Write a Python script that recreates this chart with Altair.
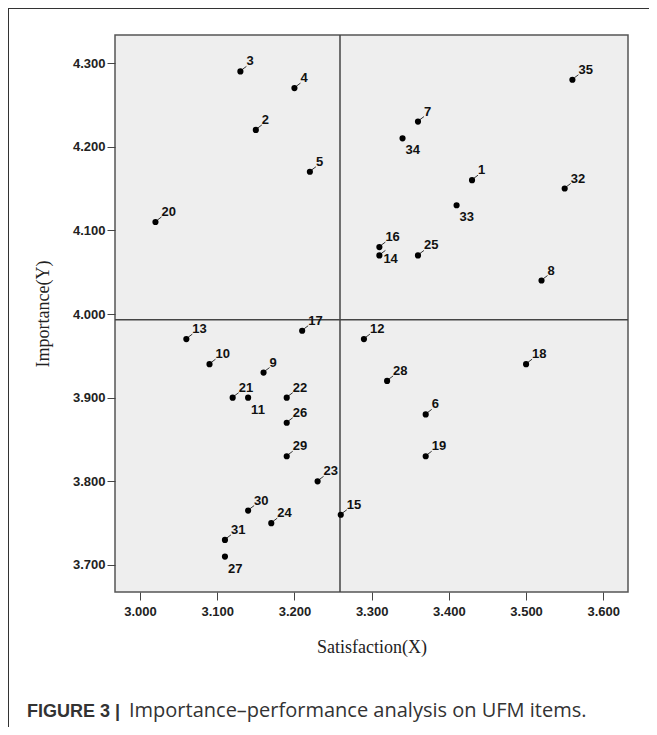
import altair as alt
import pandas as pd

ids = list(range(1, 36))
satisfaction = [3.43, 3.15, 3.13, 3.20, 3.22, 3.37, 3.36, 3.52, 3.16, 3.09,
                3.14, 3.29, 3.06, 3.31, 3.26, 3.31, 3.21, 3.50, 3.37, 3.02,
                3.12, 3.19, 3.23, 3.17, 3.36, 3.19, 3.11, 3.32, 3.19, 3.14,
                3.11, 3.55, 3.41, 3.34, 3.56]
importance = [4.16, 4.22, 4.29, 4.27, 4.17, 3.88, 4.23, 4.04, 3.93, 3.94,
              3.90, 3.97, 3.97, 4.07, 3.76, 4.08, 3.98, 3.94, 3.83, 4.11,
              3.90, 3.90, 3.80, 3.75, 4.07, 3.87, 3.71, 3.92, 3.83, 3.765,
              3.73, 4.15, 4.13, 4.21, 4.28]
below_labels = [34, 33, 11, 27]
right_labels = [14]

mean_x = [3.259]
mean_y = [3.993]

x_ticks = [3.0, 3.1, 3.2, 3.3, 3.4, 3.5, 3.6]
y_ticks = [3.7, 3.8, 3.9, 4.0, 4.1, 4.2, 4.3]

df = pd.DataFrame({"id": ids, "x": satisfaction, "y": importance})
df["lab"] = df["id"].astype(str)
df["pos"] = ["below" if i in below_labels else ("right" if i in right_labels else "above") for i in ids]

W, H = 513, 557
xs = alt.Scale(domain=[2.9676, 3.632], nice=False, zero=False)
ys = alt.Scale(domain=[3.6677, 4.3335], nice=False, zero=False)

tick_font = "Liberation Sans"

base = alt.Chart(df)

xenc = alt.X("x:Q", scale=xs, title="Satisfaction(X)",
             axis=alt.Axis(values=x_ticks, format=".3f", grid=False,
                           labelFont=tick_font, labelFontWeight="bold", labelFontSize=13,
                           labelColor="#222", tickColor="#444", tickSize=8, domain=False,
                           titleFont="Liberation Serif", titleFontSize=18, titleFontWeight="normal",
                           titleColor="#222", titlePadding=20, labelPadding=5))
yenc = alt.Y("y:Q", scale=ys, title="Importance(Y)",
             axis=alt.Axis(values=y_ticks, format=".3f", grid=False,
                           labelFont=tick_font, labelFontWeight="bold", labelFontSize=13,
                           labelColor="#222", tickColor="#444", tickSize=8, domain=False,
                           titleFont="Liberation Serif", titleFontSize=18, titleFontWeight="normal",
                           titleColor="#222", titlePadding=20, labelPadding=2))

points = base.mark_circle(size=38, color="#000", opacity=1).encode(x=xenc, y=yenc)

leaders_up = base.transform_filter(alt.datum.pos != "below").mark_rule(
    color="#333", strokeWidth=1, xOffset=2, yOffset=-2, x2Offset=6, y2Offset=-5
).encode(x=alt.X("x:Q", scale=xs), x2="x:Q", y=alt.Y("y:Q", scale=ys), y2="y:Q")

labels_up = base.transform_filter(alt.datum.pos == "above").mark_text(
    font=tick_font, fontWeight="bold", fontSize=13, color="#111",
    align="left", baseline="alphabetic", dx=6, dy=-6
).encode(x=alt.X("x:Q", scale=xs), y=alt.Y("y:Q", scale=ys), text="lab:N")

labels_right = base.transform_filter(alt.datum.pos == "right").mark_text(
    font=tick_font, fontWeight="bold", fontSize=13, color="#111",
    align="left", baseline="middle", dx=4, dy=4
).encode(x=alt.X("x:Q", scale=xs), y=alt.Y("y:Q", scale=ys), text="lab:N")

labels_down = base.transform_filter(alt.datum.pos == "below").mark_text(
    font=tick_font, fontWeight="bold", fontSize=13, color="#111",
    align="left", baseline="top", dx=3, dy=6
).encode(x=alt.X("x:Q", scale=xs), y=alt.Y("y:Q", scale=ys), text="lab:N")

vline = alt.Chart(pd.DataFrame({"m": mean_x})).mark_rule(color="#444", strokeWidth=1.5).encode(
    x=alt.X("m:Q", scale=xs))
hline = alt.Chart(pd.DataFrame({"m": mean_y})).mark_rule(color="#444", strokeWidth=1.5).encode(
    y=alt.Y("m:Q", scale=ys))

frame_top = alt.Chart(pd.DataFrame({"a": [0]})).mark_rule(color="#333", strokeWidth=1).encode(
    x=alt.value(-107), x2=alt.value(560), y=alt.value(-26.5))
frame_left = alt.Chart(pd.DataFrame({"a": [0]})).mark_rule(color="#333", strokeWidth=1).encode(
    x=alt.value(-106.5), y=alt.value(-27), y2=alt.value(720))

cap1 = alt.Chart(pd.DataFrame({"t": ["FIGURE 3 |"]})).mark_text(
    font="Liberation Sans", fontWeight="bold", fontSize=18, color="#333",
    align="left", baseline="alphabetic").encode(x=alt.value(-88), y=alt.value(682), text="t:N")
cap2 = alt.Chart(pd.DataFrame({"t": ["Importance\u2013performance analysis on UFM items."]})).mark_text(
    font="Open Sans", fontWeight="normal", fontSize=20, color="#333",
    align="left", baseline="alphabetic").encode(x=alt.value(14), y=alt.value(682), text="t:N")

chart = alt.layer(vline, hline, leaders_up, points, labels_up, labels_right, labels_down,
                  frame_top, frame_left, cap1, cap2).properties(
    width=W, height=H,
    autosize=alt.AutoSizeParams(type="none"),
    padding={"left": 107, "top": 27, "right": 21, "bottom": 135},
    background="white"
).configure_view(fill="#eeeeee", stroke="#555", strokeWidth=1.5)

chart.save("out.html", embed_options={"renderer": "svg", "actions": False})
